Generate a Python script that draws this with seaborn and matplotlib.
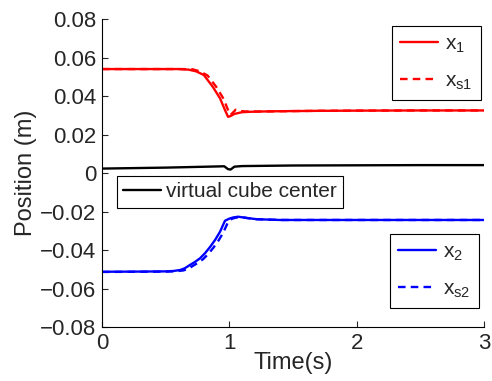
import numpy as np
import pandas as pd
import matplotlib
matplotlib.use("Agg")
import matplotlib.pyplot as plt
import seaborn as sns

# ---- data ----
t_x1 = [0.0, 0.3, 0.6, 0.68, 0.74, 0.80, 0.87, 0.927, 0.966, 0.99, 1.01, 1.04, 1.1, 1.2, 1.4, 1.7, 2.0, 2.5, 3.0]
x1 = [0.0540, 0.0540, 0.0540, 0.0537, 0.0528, 0.0509, 0.0448, 0.0388, 0.0327, 0.0292, 0.0296, 0.0307, 0.0316, 0.0319, 0.0321, 0.0323, 0.0324, 0.0325, 0.0325]

t_xs1 = [0.0, 0.3, 0.62, 0.71, 0.77, 0.83, 0.90, 0.955, 0.99, 1.01, 1.03, 1.05, 1.08, 1.12, 1.2, 1.4, 1.7, 2.0, 2.5, 3.0]
xs1 = [0.0540, 0.0540, 0.0540, 0.0539, 0.0528, 0.0506, 0.0445, 0.0385, 0.0327, 0.0302, 0.0315, 0.0329, 0.0323, 0.0320, 0.0319, 0.0321, 0.0323, 0.0324, 0.0325, 0.0325]

t_c = [0.0, 0.5, 0.9, 0.96, 0.99, 1.01, 1.04, 1.1, 1.5, 2.0, 2.5, 3.0]
center = [0.0023, 0.0028, 0.0034, 0.0035, 0.0020, 0.0018, 0.0033, 0.0036, 0.0039, 0.0040, 0.0041, 0.0041]

t_x2 = [0.0, 0.3, 0.5, 0.56, 0.613, 0.65, 0.69, 0.73, 0.77, 0.81, 0.85, 0.89, 0.927, 0.966, 1.0, 1.03, 1.07, 1.13, 1.215, 1.4, 1.7, 2.0, 2.5, 3.0]
x2 = [-0.0513, -0.0512, -0.0511, -0.0509, -0.0504, -0.0495, -0.0478, -0.0462, -0.0443, -0.0416, -0.0383, -0.0346, -0.0305, -0.0248, -0.0237, -0.0231, -0.0227, -0.0233, -0.0240, -0.0244, -0.0244, -0.0244, -0.0244, -0.0244]

t_xs2 = [0.0, 0.3, 0.52, 0.585, 0.64, 0.675, 0.715, 0.755, 0.795, 0.835, 0.875, 0.915, 0.952, 0.99, 1.02, 1.05, 1.09, 1.14, 1.215, 1.4, 1.7, 2.0, 2.5, 3.0]
xs2 = [-0.0514, -0.0513, -0.0512, -0.0510, -0.0506, -0.0498, -0.0482, -0.0466, -0.0447, -0.0420, -0.0388, -0.0351, -0.0310, -0.0255, -0.0238, -0.0232, -0.0228, -0.0234, -0.0240, -0.0244, -0.0244, -0.0244, -0.0244, -0.0244]

x_ticks = [0, 1, 2, 3]
y_ticks = [-0.08, -0.06, -0.04, -0.02, 0, 0.02, 0.04, 0.06, 0.08]
y_tick_labels = ["\u22120.08", "\u22120.06", "\u22120.04", "\u22120.02", "0", "0.02", "0.04", "0.06", "0.08"]

labels = {"x1": r"x$_{1}$", "xs1": r"x$_{\mathrm{s1}}$", "x2": r"x$_{2}$", "xs2": r"x$_{\mathrm{s2}}$",
          "c": "virtual cube center"}

# ---- styling ----
sns.set_theme(style="ticks")
plt.rcParams.update({
    "font.family": ["Liberation Sans", "DejaVu Sans"],
    "mathtext.fontset": "custom",
    "mathtext.rm": "Liberation Sans",
    "mathtext.it": "Liberation Sans",
    "xtick.direction": "in",
    "ytick.direction": "in",
})

fig = plt.figure(figsize=(4.92, 3.81), dpi=100)
ax = fig.add_axes([0.2073, 0.1417, 0.9837 - 0.2073, 0.9501 - 0.1417])

lw = 1.7
h_x1 = sns.lineplot(x=t_x1, y=x1, ax=ax, color="#ff0000", lw=lw, label=labels["x1"], legend=False).lines[-1]
h_xs1 = sns.lineplot(x=t_xs1, y=xs1, ax=ax, color="#ff0000", lw=lw, label=labels["xs1"], legend=False).lines[-1]
h_xs1.set_linestyle((0, (3.2, 2.2)))
h_c = sns.lineplot(x=t_c, y=center, ax=ax, color="black", lw=lw, label=labels["c"], legend=False).lines[-1]
h_x2 = sns.lineplot(x=t_x2, y=x2, ax=ax, color="#0000ff", lw=lw, label=labels["x2"], legend=False).lines[-1]
h_xs2 = sns.lineplot(x=t_xs2, y=xs2, ax=ax, color="#0000ff", lw=lw, label=labels["xs2"], legend=False).lines[-1]
h_xs2.set_linestyle((0, (3.2, 2.2)))

ax.set_xlim(0, 3)
ax.set_ylim(-0.08, 0.08)
ax.set_xticks(x_ticks)
ax.set_xticklabels([str(v) for v in x_ticks])
ax.set_yticks(y_ticks)
ax.set_yticklabels(y_tick_labels)
ax.tick_params(labelsize=16, length=4, width=0.8)
ax.tick_params(axis="y", pad=4)
ax.tick_params(axis="x", pad=4)
ax.set_xlabel("Time(s)", fontsize=17, labelpad=-1)
ax.set_ylabel("Position (m)", fontsize=17, labelpad=2)
sns.despine(ax=ax)
for s in ["left", "bottom"]:
    ax.spines[s].set_linewidth(0.8)
    ax.spines[s].set_color("black")

leg_kw = dict(fontsize=15, frameon=True, fancybox=False, framealpha=1, edgecolor="black",
              borderaxespad=0, bbox_transform=fig.transFigure, loc="upper left")
leg1 = ax.legend([h_x1, h_xs1], [labels["x1"], labels["xs1"]], bbox_to_anchor=(0.797, 0.932),
                 handlelength=1.8, handletextpad=0.35, labelspacing=0.8, borderpad=0.4, **leg_kw)
leg1.get_frame().set_linewidth(0.8)
ax.add_artist(leg1)
leg2 = ax.legend([h_x2, h_xs2], [labels["x2"], labels["xs2"]], bbox_to_anchor=(0.793, 0.386),
                 handlelength=1.8, handletextpad=0.35, labelspacing=0.8, borderpad=0.4, **leg_kw)
leg2.get_frame().set_linewidth(0.8)
ax.add_artist(leg2)
leg3 = ax.legend([h_c], [labels["c"]], bbox_to_anchor=(0.238, 0.538),
                 handlelength=1.8, handletextpad=0.25, borderpad=0.3, **leg_kw)
leg3.get_frame().set_linewidth(0.8)

fig.savefig("out.png", dpi=100)
